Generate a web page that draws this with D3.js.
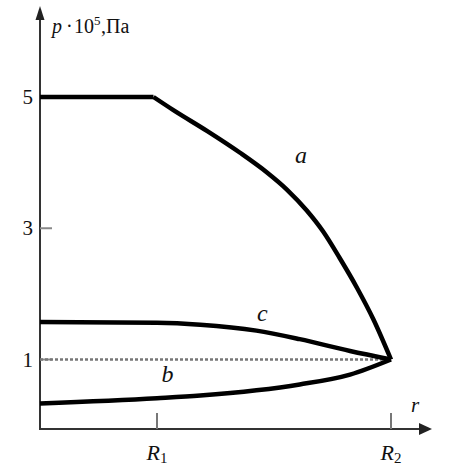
<!DOCTYPE html>
<html><head><meta charset="utf-8">
<script src="https://cdn.jsdelivr.net/npm/d3@7"></script>
<style>body{margin:0;background:#fff}svg{display:block}</style>
</head><body>
<script>
// ---- data (r in units of R1, p in 10^5 Pa) ----
const yTicks = [1, 3, 5];
const xTickNames = ["R1", "R2"];
const xTickValues = [1, 3];
const aR = [0, 0.97, 1.14, 1.43, 1.71, 1.94, 2.11, 2.28, 2.42, 2.56, 2.71, 2.85, 3.0];
const aP = [5.0, 5.0, 4.80, 4.48, 4.15, 3.85, 3.59, 3.27, 2.95, 2.55, 2.09, 1.61, 1.0];
const cR = [0, 1, 1.37, 1.85, 2.22, 2.65, 3.0];
const cP = [1.57, 1.56, 1.53, 1.44, 1.31, 1.13, 1.0];
const bR = [0, 1, 1.37, 1.85, 2.22, 2.65, 3.0];
const bP = [0.33, 0.41, 0.45, 0.53, 0.62, 0.77, 1.0];
const dotR = [0, 3];
const dotP = [1, 1];
const curveLabels = ["a", "c", "b"];

const W = 453, H = 467;
const svg = d3.select("body").append("svg").attr("width", W).attr("height", H);
const x = d3.scaleLinear().domain([0, 3]).range([40, 391]);
const y = d3.scaleLinear().domain([1, 5]).range([359.5, 97]);
const serif = "'Liberation Serif','Times New Roman',serif";

// axes
const x0 = x(0), yb = 429;
svg.append("line").attr("x1", x0).attr("y1", yb).attr("x2", 424).attr("y2", yb)
  .attr("stroke", "#333").attr("stroke-width", 2);
svg.append("line").attr("x1", x0).attr("y1", yb + 1).attr("x2", x0).attr("y2", 16)
  .attr("stroke", "#333").attr("stroke-width", 2);
svg.append("path").attr("d", `M432,${yb} L419,${yb - 6} L419,${yb + 6} Z`).attr("fill", "#222");
svg.append("path").attr("d", `M${x0},6 L${x0 - 4.5},20 L${x0 + 4.5},20 Z`).attr("fill", "#222");

// y ticks
svg.selectAll(".yt").data(yTicks).enter().append("line")
  .attr("x1", x0).attr("x2", x0 + 12).attr("y1", d => y(d)).attr("y2", d => y(d))
  .attr("stroke", "#888").attr("stroke-width", 2);
svg.selectAll(".yl").data(yTicks).enter().append("text")
  .attr("x", 33).attr("y", d => y(d) + 7).attr("text-anchor", "end")
  .attr("font-family", serif).attr("font-size", 21).attr("fill", "#111").text(d => d);

// x ticks
svg.selectAll(".xt").data(xTickValues).enter().append("line")
  .attr("x1", d => x(d)).attr("x2", d => x(d)).attr("y1", yb - 16).attr("y2", yb)
  .attr("stroke", "#777").attr("stroke-width", 2);
const xl = svg.selectAll(".xl").data(xTickValues).enter().append("text")
  .attr("x", d => x(d)).attr("y", 460).attr("text-anchor", "middle")
  .attr("font-family", serif).attr("font-size", 22).attr("fill", "#111");
xl.append("tspan").attr("font-style", "italic").text("R");
xl.append("tspan").attr("font-size", 15).attr("dy", 3).text((d, i) => xTickNames[i].slice(1));

// axis titles
const yt = svg.append("text").attr("y", 33).attr("font-family", serif).attr("font-size", 20).attr("fill", "#111");
yt.append("tspan").attr("x", 52).attr("font-style", "italic").text("p");
yt.append("tspan").attr("x", 66).text("·");
yt.append("tspan").attr("x", 74).text("10");
yt.append("tspan").attr("x", 94).attr("dy", -8).attr("font-size", 13).text("5");
yt.append("tspan").attr("x", 101).attr("dy", 8).text(",");
yt.append("tspan").attr("x", 106).text("Па");
svg.append("text").attr("x", 415).attr("y", 412).attr("text-anchor", "middle")
  .attr("font-family", serif).attr("font-size", 21).attr("font-style", "italic").attr("fill", "#111").text("r");

// dotted reference line at p = 1
const lin = d3.line().x(d => x(d[0])).y(d => y(d[1]));
svg.append("path").attr("d", lin(d3.zip(dotR, dotP))).attr("fill", "none")
  .attr("stroke", "#777").attr("stroke-width", 2.5).attr("stroke-dasharray", "3,2");

// curves
const smooth = d3.line().x(d => x(d[0])).y(d => y(d[1])).curve(d3.curveMonotoneX);
const aPts = d3.zip(aR, aP);
svg.append("path").attr("d", lin(aPts.slice(0, 2))).attr("fill", "none").attr("stroke", "#000").attr("stroke-width", 4.5);
svg.append("path").attr("d", smooth(aPts.slice(1)))
  .attr("fill", "none").attr("stroke", "#000").attr("stroke-width", 4.5).attr("stroke-linejoin", "round");
svg.append("path").attr("d", smooth(d3.zip(cR, cP))).attr("fill", "none").attr("stroke", "#000").attr("stroke-width", 4.5);
svg.append("path").attr("d", smooth(d3.zip(bR, bP))).attr("fill", "none").attr("stroke", "#000").attr("stroke-width", 4.5);

// curve labels
const labelPos = [[2.23, 4.0], [1.9, 1.58], [1.09, 0.66]];
svg.selectAll(".cl").data(curveLabels).enter().append("text")
  .attr("x", (d, i) => x(labelPos[i][0])).attr("y", (d, i) => y(labelPos[i][1]))
  .attr("text-anchor", "middle").attr("font-family", serif).attr("font-size", 24)
  .attr("font-style", "italic").attr("fill", "#111").text(d => d);
</script>
</body></html>
